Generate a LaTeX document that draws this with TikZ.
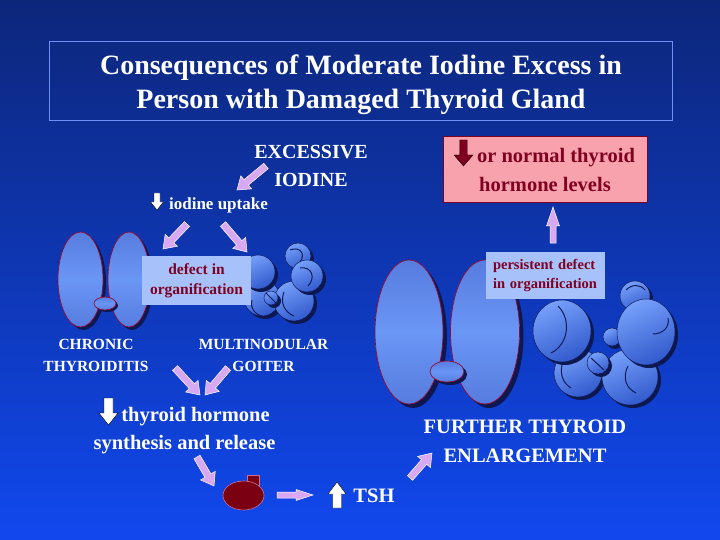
\documentclass[tikz,border=0pt]{standalone}
\usepackage{fontspec}
\setmainfont{Liberation Serif}
\usetikzlibrary{calc}
\definecolor{bgtop}{RGB}{12,38,122}
\definecolor{bgbot}{RGB}{17,72,238}
\definecolor{arrowc}{RGB}{216,168,242}
\definecolor{lobemid}{RGB}{86,124,222}
\definecolor{lobelight}{RGB}{106,150,246}
\definecolor{lobeline}{RGB}{150,10,50}
\definecolor{shadowc}{RGB}{14,24,80}
\definecolor{boxblue}{RGB}{167,194,251}
\definecolor{dred}{RGB}{128,0,32}
\definecolor{pinkc}{RGB}{248,162,174}
\definecolor{titleline}{RGB}{110,145,245}
\definecolor{nodlight}{RGB}{118,160,250}
\definecolor{noddark}{RGB}{50,90,205}
\definecolor{nodline}{RGB}{16,28,90}
\definecolor{tshc}{RGB}{122,0,18}
\definecolor{tshline}{RGB}{200,110,150}
\newcommand\fatarrow[6]{%
  \path ($(#2)!#5pt!(#1)$) coordinate (fah);
  \draw[#6] ($(#1)!#3pt!90:(#2)$) -- ($(fah)!#3pt!-90:(#1)$) -- ($(fah)!#4pt!-90:(#1)$) -- (#2)
    -- ($(fah)!#4pt!90:(#1)$) -- ($(fah)!#3pt!90:(#1)$) -- ($(#1)!#3pt!-90:(#2)$) -- cycle;}
\newcommand\nodule[3]{%
  \fill[lobeshadow] (#1+3,#2-3) circle [radius=#3];
  \draw[nodule] (#1,#2) circle [radius=#3];}
\tikzset{
  wtext/.style={text=white, align=center, inner sep=0pt},
  purplearrow/.style={fill=arrowc, draw=white, line width=0.5pt, line join=miter},
  whitearrow/.style={fill=white},
  redarrow/.style={fill=dred},
  lobe/.style={top color=lobemid, bottom color=lobemid, middle color=lobelight, draw=lobeline, line width=0.7pt},
  lobeshadow/.style={fill=shadowc},
  nodule/.style={top color=nodlight, bottom color=noddark, shading angle=25, draw=nodline, line width=0.5pt},
  nodarc/.style={draw=nodline, line width=1pt},
  bluebox/.style={fill=boxblue, text=dred, inner sep=0pt},
}
\begin{document}
\begin{tikzpicture}[x=1pt,y=1pt]
\useasboundingbox (0,0) rectangle (720,-540);
\shade[top color=bgtop, bottom color=bgbot] (0,0) rectangle (720,-540);

% title
\node[draw=titleline, line width=0.8pt, minimum width=623pt, minimum height=79pt, inner sep=0pt] (titlebox) at (360.5,-80.5) {};
\node[wtext, font=\bfseries\fontsize{28}{34}\selectfont] (title) at (361,-84.5) {Consequences of Moderate Iodine Excess in\\Person with Damaged Thyroid Gland};

% left thyroid
\fill[lobeshadow] (83.5,-282.5) ellipse [x radius=22.5, y radius=47.5];
\fill[lobeshadow] (132,-282.5) ellipse [x radius=21, y radius=47.5];
\draw[lobe] (80.5,-279.5) ellipse [x radius=22.5, y radius=47.5];
\draw[lobe] (129,-279.5) ellipse [x radius=21, y radius=47.5];
\fill[lobeshadow] (107,-305.5) ellipse [x radius=11, y radius=6.5];
\draw[lobe] (105,-303.5) ellipse [x radius=11, y radius=6.5];

% left goiter
\nodule{298}{-256}{13}
\nodule{262}{-298}{18}
\nodule{258}{-272}{17}
\nodule{294}{-301}{20}
\nodule{307}{-276}{16}
\nodule{271}{-298}{7}
\draw[nodarc] (290,-250) .. controls (300,-246) and (306,-254) .. (300,-262);
\draw[nodarc] (300,-268) .. controls (312,-266) and (316,-278) .. (308,-286);
\draw[nodarc] (284,-292) .. controls (280,-302) and (284,-312) .. (294,-316);
\draw[nodarc] (266,-293) -- (276,-303);
\draw[nodarc] (252,-300) .. controls (250,-308) and (254,-314) .. (262,-316);

% right thyroid
\fill[lobeshadow] (413,-336) ellipse [x radius=34, y radius=72];
\fill[lobeshadow] (489,-336) ellipse [x radius=34.5, y radius=72];
\draw[lobe] (409,-332) ellipse [x radius=34, y radius=72];
\draw[lobe] (485,-332) ellipse [x radius=34.5, y radius=72];
\fill[lobeshadow] (450,-374.5) ellipse [x radius=17, y radius=10.5];
\draw[lobe] (447,-371.5) ellipse [x radius=17, y radius=10.5];

% right goiter
\nodule{635}{-296}{15}
\nodule{578}{-373}{24}
\nodule{630}{-377}{28}
\nodule{612}{-337}{9}
\nodule{598}{-363}{11}
\fill[lobeshadow] (565,-334) ellipse [x radius=29, y radius=31];
\draw[nodule] (562,-331) ellipse [x radius=29, y radius=31];
\fill[lobeshadow] (649,-335) ellipse [x radius=29, y radius=33];
\draw[nodule] (646,-332) ellipse [x radius=29, y radius=33];
\draw[nodarc] (558,-306) .. controls (572,-320) and (568,-345) .. (551,-353);
\draw[nodarc] (668,-318) .. controls (670,-328) and (662,-334) .. (653,-334);
\draw[nodarc] (628,-366) .. controls (622,-378) and (626,-388) .. (636,-393);
\draw[nodarc] (562,-365) .. controls (560,-375) and (563,-383) .. (571,-388);
\draw[nodarc] (591,-358) -- (604,-370);
\draw[nodarc] (626,-290) .. controls (632,-284) and (640,-284) .. (645,-290);

% boxes
\node[bluebox, minimum width=109pt, minimum height=49pt, align=center, font=\bfseries\fontsize{15.5}{20}\selectfont] (defect) at (196.5,-280.5) {defect in\\organification};
\node[bluebox, minimum height=47pt, text width=105pt, inner xsep=7pt, align=left, font=\bfseries\fontsize{14.5}{19}\selectfont] (persist) at (545.5,-275.5) {persistent defect\\in organification};
\node[fill=pinkc, draw=dred, line width=1pt, minimum width=204pt, minimum height=66pt, inner sep=0pt, text=dred, align=center, font=\bfseries\fontsize{20.5}{29}\selectfont] (pink) at (545,-169.5) {\hspace*{22pt}or normal thyroid\\hormone levels};

% texts
\node[wtext, font=\bfseries\fontsize{20}{28}\selectfont] (excess) at (311,-166) {EXCESSIVE\\IODINE};
\node[wtext, font=\bfseries\fontsize{17}{20}\selectfont] (uptake) at (218.5,-205) {iodine uptake};
\node[wtext, font=\bfseries\fontsize{15.5}{22}\selectfont] (chronic) at (96,-355) {CHRONIC\\THYROIDITIS};
\node[wtext, font=\bfseries\fontsize{15.5}{22}\selectfont] (multi) at (263.5,-355) {MULTINODULAR\\GOITER};
\node[wtext, font=\bfseries\fontsize{20.5}{28}\selectfont] (synth) at (184.5,-431) {\hspace*{22pt}thyroid hormone\\synthesis and release};
\node[wtext, font=\bfseries\fontsize{20.5}{25}\selectfont] (tsh) at (374,-496) {TSH};
\node[wtext, font=\bfseries\fontsize{20.5}{29}\selectfont] (further) at (525,-441) {FURTHER THYROID\\ENLARGEMENT};

% TSH gland
\draw[fill=tshc, draw=tshline, line width=0.6pt] (247,-475) rectangle (259,-487);
\draw[fill=tshc, draw=tshline, line width=0.6pt] (243.5,-495.5) ellipse [x radius=20.5, y radius=14.5];
\coordinate (gland) at (243.5,-495.5);

% small inline arrows
\coordinate (w1s) at (157,-193); \coordinate (w1e) at (157,-210);
\fatarrow{w1s}{w1e}{3}{6.5}{8}{whitearrow}
\coordinate (w2s) at (108.5,-398); \coordinate (w2e) at (108.5,-425);
\fatarrow{w2s}{w2e}{4.5}{9.5}{12}{whitearrow}
\coordinate (w3s) at (337,-508); \coordinate (w3e) at (337,-482);
\fatarrow{w3s}{w3e}{4.5}{9}{12}{whitearrow}
\coordinate (r1s) at (463.5,-140); \coordinate (r1e) at (463.5,-166);
\fatarrow{r1s}{r1e}{3.7}{9.5}{11}{redarrow}

% purple arrows
\coordinate (a1s) at (266,-166); \coordinate (a1e) at (237,-190);
\fatarrow{a1s}{a1e}{3.5}{8.5}{12}{purplearrow}
\coordinate (a2s) at (187,-224); \coordinate (a2e) at (163,-249);
\fatarrow{a2s}{a2e}{3.5}{8.5}{12}{purplearrow}
\coordinate (a3s) at (223,-224); \coordinate (a3e) at (247,-252);
\fatarrow{a3s}{a3e}{3.5}{8.5}{12}{purplearrow}
\coordinate (a4s) at (175,-368); \coordinate (a4e) at (200,-395);
\fatarrow{a4s}{a4e}{3.5}{8.5}{12}{purplearrow}
\coordinate (a5s) at (228,-368); \coordinate (a5e) at (205,-395);
\fatarrow{a5s}{a5e}{3.5}{8.5}{12}{purplearrow}
\coordinate (a6s) at (197,-457); \coordinate (a6e) at (214,-486);
\fatarrow{a6s}{a6e}{3.5}{8.5}{12}{purplearrow}
\coordinate (a7s) at (277,-495); \coordinate (a7e) at (313,-495);
\fatarrow{a7s}{a7e}{3}{5.5}{17}{purplearrow}
\coordinate (a8s) at (410,-478); \coordinate (a8e) at (432,-453);
\fatarrow{a8s}{a8e}{3.5}{8.5}{12}{purplearrow}
\coordinate (a9s) at (553,-243); \coordinate (a9e) at (553,-207);
\fatarrow{a9s}{a9e}{3}{6.5}{19}{purplearrow}
\end{tikzpicture}
\end{document}
